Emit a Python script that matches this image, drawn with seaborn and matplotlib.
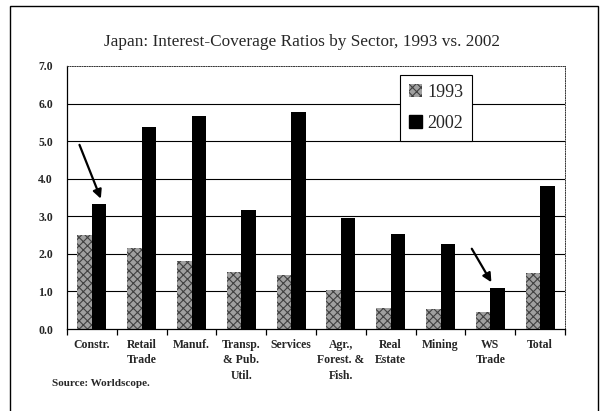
import matplotlib
matplotlib.use("Agg")
import matplotlib.pyplot as plt
import seaborn as sns
import pandas as pd
import numpy as np
from matplotlib.patches import Rectangle, Patch

sectors = ["Constr.", "Retail\nTrade", "Manuf.", "Transp.\n& Pub.\nUtil.", "Services",
           "Agr.,\nForest. &\nFish.", "Real\nEstate", "Mining", "WS\nTrade", "Total"]
v1993 = [2.50, 2.15, 1.81, 1.51, 1.43, 1.04, 0.55, 0.52, 0.46, 1.49]
v2002 = [3.33, 5.37, 5.68, 3.17, 5.77, 2.95, 2.53, 2.27, 1.08, 3.80]
years = ["1993", "2002"]
yticks = [0.0, 1.0, 2.0, 3.0, 4.0, 5.0, 6.0, 7.0]

df = pd.DataFrame({
    "sector": sectors * 2,
    "value": v1993 + v2002,
    "year": [years[0]] * len(sectors) + [years[1]] * len(sectors),
})

sns.set_theme(style="white")
plt.rcParams["font.family"] = ["Liberation Serif", "DejaVu Serif"]
plt.rcParams["hatch.linewidth"] = 0.8

fig = plt.figure(figsize=(6.04, 4.11), dpi=100)
ax = fig.add_axes([67/604, 1-329/411, (565-67)/604, (329-66)/411])

sns.barplot(data=df, x="sector", y="value", hue="year", order=sectors,
            hue_order=years, palette=["#9a9a9a", "#000000"], width=0.58,
            saturation=1, ax=ax, legend=False)

n = len(sectors)
for i, p in enumerate(ax.patches[:2*n]):
    p.set_linewidth(0.0)
    if i < n:
        p.set_facecolor("#a0a0a0")
        p.set_hatch("xxxx")
        p.set_edgecolor("#404040")
        p.set_linewidth(0)

ax.set_ylim(0, 7)
ax.set_xlim(-0.5, n - 0.5)
ax.set_yticks(yticks)
ax.set_yticklabels([f"{t:.1f}" for t in yticks], fontsize=8.5, fontweight="bold")
ax.set_xlabel("")
ax.set_ylabel("")
ax.tick_params(axis="x", which="major", length=0, labelsize=8.5, pad=7)
for lab in ax.get_xticklabels():
    lab.set_fontweight("bold")
    lab.set_linespacing(1.4)
ax.set_xticks(np.arange(-0.5, n, 1.0), minor=True)
ax.tick_params(axis="x", which="minor", length=4, width=0.9, color="black", direction="out", bottom=True)
ax.tick_params(axis="y", which="major", length=0, pad=10)

for y in yticks[1:-1]:
    ax.axhline(y, color="black", lw=0.8, zorder=0.5)

for s in ["left", "bottom"]:
    ax.spines[s].set_visible(True)
    ax.spines[s].set_color("black")
    ax.spines[s].set_linewidth(0.9)
for s in ["top", "right"]:
    ax.spines[s].set_visible(True)
    ax.spines[s].set_color("#333333")
    ax.spines[s].set_linewidth(0.7)
    ax.spines[s].set_linestyle((0, (1, 1.5)))

# Legend
handles = [Patch(facecolor="#a0a0a0", edgecolor="#404040", hatch="xxxx", linewidth=0),
           Patch(facecolor="black", edgecolor="black")]
leg = ax.legend(handles, years, loc="upper left", bbox_to_anchor=((400-67)/498, (329-75)/263),
                frameon=True, fancybox=False, fontsize=13, handlelength=0.7, handleheight=0.7,
                handletextpad=0.3, borderpad=0.5, labelspacing=0.75, borderaxespad=0)
leg.get_frame().set_edgecolor("black")
leg.get_frame().set_linewidth(0.8)
leg.get_frame().set_facecolor("white")
leg.get_frame().set_alpha(1)

# Arrows
ax.annotate("", xy=(0.2, 3.4), xytext=(-0.27, 4.97),
            arrowprops=dict(arrowstyle="-|>", color="black", lw=1.6, mutation_scale=13))
ax.annotate("", xy=(8.05, 1.18), xytext=(7.6, 2.2),
            arrowprops=dict(arrowstyle="-|>", color="black", lw=1.6, mutation_scale=13))

fig.text(0.5, 1-42/411, "Japan: Interest-Coverage Ratios by Sector, 1993 vs. 2002",
         ha="center", va="center", fontsize=12.4)
fig.text(52/604, 1-383/411, "Source: Worldscope.", ha="left", va="center", fontsize=8,
         fontweight="bold")

fig.patches.append(Rectangle((10/604, -0.01), (598-10)/604, 1-6/411+0.01,
                             transform=fig.transFigure, fill=False, edgecolor="black", lw=1.0))

fig.savefig("out.png", dpi=100)
